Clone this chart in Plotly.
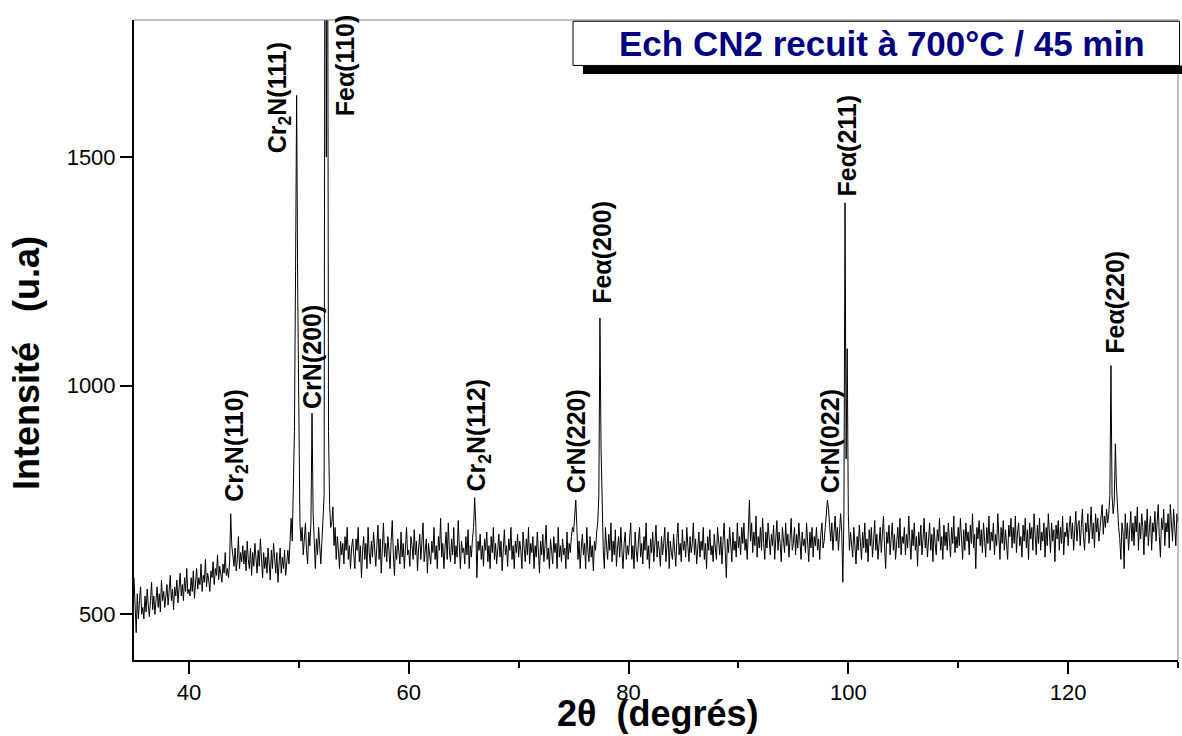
import plotly.graph_objects as go

# ---------------- data ----------------
two_theta_start = 35.0
two_theta_step = 0.1

intensity_35_40 = [
    580, 520, 460, 545, 490, 530, 560, 500, 515, 490,
    540, 505, 555, 520, 495, 530, 570, 510, 540, 500,
    525, 560, 515, 545, 505, 575, 530, 550, 515, 540,
    565, 520, 545, 585, 530, 555, 510, 560, 540, 575,
    525, 560, 590, 540, 565, 530, 580, 550, 600, 545]
intensity_40_45 = [
    555, 540, 580, 550, 595, 535, 570, 600, 555, 580,
    565, 610, 550, 585, 570, 620, 560, 590, 575, 550,
    595, 580, 615, 565, 600, 585, 630, 575, 605, 590,
    570, 610, 590, 635, 585, 600, 580, 615, 720, 650,
    630, 605, 645, 595, 620, 670, 600, 635, 615, 650]
intensity_45_50 = [
    610, 640, 595, 660, 620, 600, 645, 585, 635, 605,
    655, 615, 590, 640, 605, 665, 610, 580, 635, 600,
    625, 590, 645, 610, 575, 640, 600, 655, 615, 590,
    635, 570, 610, 645, 590, 625, 600, 640, 585, 620,
    640, 610, 655, 710, 660, 760, 900, 1250, 1635, 1200]
intensity_50_55 = [
    850, 700, 660, 690, 630, 670, 700, 640, 610, 680,
    650, 700, 940, 720, 640, 600, 665, 630, 690, 640,
    610, 660, 700, 760, 2600, 1500, 2400, 900, 740, 690,
    700, 735, 650, 690, 620, 670, 640, 600, 660, 630,
    655, 610, 670, 640, 690, 620, 650, 600, 645, 665]
intensity_55_60 = [
    630, 600, 665, 640, 690, 615, 650, 580, 640, 670,
    620, 655, 600, 690, 635, 610, 660, 625, 680, 640,
    605, 650, 695, 620, 665, 590, 640, 700, 625, 655,
    615, 670, 640, 600, 660, 705, 630, 585, 650, 620,
    665, 640, 610, 680, 625, 655, 600, 645, 690, 630]
intensity_60_65 = [
    640, 605, 670, 650, 620, 685, 630, 660, 595, 645,
    675, 620, 650, 700, 615, 640, 665, 590, 655, 630,
    610, 660, 635, 690, 620, 650, 600, 670, 640, 710,
    625, 655, 600, 645, 680, 620, 700, 640, 615, 665,
    630, 690, 610, 650, 625, 705, 640, 600, 660, 635]
intensity_65_70 = [
    645, 610, 670, 630, 685, 600, 650, 625, 665, 690,
    755, 700, 580, 660, 640, 675, 620, 650, 605, 665,
    640, 680, 615, 650, 600, 670, 635, 690, 620, 655,
    610, 645, 675, 625, 660, 595, 640, 685, 630, 650,
    605, 665, 640, 690, 620, 650, 600, 660, 635, 675]
intensity_70_75 = [
    625, 660, 640, 600, 680, 645, 615, 665, 630, 690,
    610, 655, 635, 670, 600, 650, 625, 680, 645, 590,
    660, 630, 675, 615, 650, 695, 620, 645, 600, 665,
    640, 610, 670, 635, 655, 600, 690, 625, 650, 615,
    665, 630, 645, 600, 680, 620, 655, 635, 670, 690]
intensity_75_80 = [
    680, 720, 750, 690, 620, 660, 600, 645, 675, 630,
    655, 600, 690, 640, 615, 670, 625, 650, 595, 660,
    640, 680, 700, 760, 1148, 862, 720, 640, 600, 690,
    650, 620, 675, 640, 700, 615, 660, 630, 685, 605,
    645, 670, 625, 690, 640, 600, 655, 680, 620, 650]
intensity_80_85 = [
    630, 665, 700, 620, 650, 600, 680, 640, 615, 660,
    690, 625, 655, 610, 670, 640, 700, 620, 650, 600,
    665, 635, 680, 615, 650, 695, 625, 660, 640, 605,
    670, 630, 655, 690, 615, 645, 680, 600, 660, 635,
    620, 675, 645, 605, 665, 700, 630, 655, 615, 685]
intensity_85_90 = [
    640, 660, 625, 690, 650, 615, 670, 635, 655, 700,
    630, 665, 610, 645, 680, 625, 660, 640, 690, 620,
    655, 600, 670, 640, 685, 630, 650, 615, 675, 645,
    620, 690, 655, 630, 670, 610, 660, 700, 640, 580,
    665, 635, 690, 650, 615, 680, 640, 660, 625, 700]
intensity_90_95 = [
    645, 670, 630, 690, 655, 700, 640, 665, 620, 680,
    750, 660, 700, 635, 680, 650, 715, 625, 670, 645,
    690, 640, 710, 655, 620, 680, 645, 700, 660, 630,
    675, 650, 695, 620, 665, 705, 640, 680, 655, 615,
    690, 660, 635, 700, 650, 675, 625, 665, 710, 640]
intensity_95_100 = [
    655, 690, 630, 675, 645, 700, 660, 620, 680, 650,
    665, 635, 700, 655, 615, 680, 645, 690, 625, 670,
    650, 690, 640, 665, 620, 675, 700, 645, 660, 690,
    720, 750, 730, 690, 660, 700, 640, 680, 715, 660,
    690, 640, 700, 720, 680, 570, 720, 1400, 840, 1081]
intensity_100_105 = [
    720, 640, 680, 655, 625, 690, 650, 610, 670, 640,
    695, 660, 620, 680, 645, 700, 635, 665, 615, 685,
    650, 690, 625, 660, 705, 640, 675, 620, 655, 690,
    635, 670, 715, 645, 600, 680, 655, 695, 630, 665,
    700, 640, 675, 620, 660, 690, 645, 710, 630, 670]
intensity_105_110 = [
    655, 690, 630, 675, 645, 715, 660, 620, 685, 650,
    700, 640, 670, 605, 680, 650, 695, 630, 665, 710,
    645, 680, 625, 660, 700, 640, 675, 615, 690, 655,
    630, 685, 660, 710, 640, 670, 620, 695, 650, 680,
    640, 700, 665, 625, 690, 655, 715, 635, 670, 645]
intensity_110_115 = [
    690, 650, 710, 665, 620, 685, 640, 700, 660, 680,
    630, 695, 655, 720, 645, 675, 600, 690, 665, 705,
    650, 685, 635, 700, 670, 625, 690, 655, 715, 640,
    680, 660, 700, 630, 675, 650, 720, 665, 620, 690,
    655, 705, 640, 685, 660, 620, 695, 670, 710, 645]
intensity_115_120 = [
    690, 655, 715, 635, 680, 700, 650, 670, 625, 695,
    660, 710, 645, 685, 620, 700, 665, 690, 640, 720,
    675, 630, 695, 655, 710, 640, 680, 660, 700, 625,
    690, 650, 720, 670, 635, 700, 660, 685, 615, 695,
    665, 705, 640, 690, 655, 715, 630, 680, 670, 700]
intensity_120_125 = [
    650, 690, 715, 665, 700, 640, 685, 725, 660, 695,
    705, 650, 690, 730, 670, 640, 700, 680, 720, 655,
    690, 735, 665, 700, 645, 720, 680, 710, 660, 690,
    700, 740, 675, 715, 690, 730, 700, 720, 760, 1044,
    760, 720, 745, 873, 780, 720, 690, 665, 620, 700]
intensity_125_130 = [
    680, 600, 720, 665, 700, 640, 690, 725, 660, 700,
    650, 715, 680, 735, 640, 700, 665, 720, 690, 630,
    705, 670, 730, 650, 690, 715, 640, 700, 680, 725,
    660, 700, 740, 670, 625, 710, 685, 730, 650, 700,
    680, 720, 645, 740, 690, 660, 730, 700, 650, 720,
    700]

intensity = (intensity_35_40 + intensity_40_45 + intensity_45_50 + intensity_50_55
             + intensity_55_60 + intensity_60_65 + intensity_65_70 + intensity_70_75
             + intensity_75_80 + intensity_80_85 + intensity_85_90 + intensity_90_95
             + intensity_95_100 + intensity_100_105 + intensity_105_110
             + intensity_110_115 + intensity_115_120 + intensity_120_125
             + intensity_125_130)
two_theta = [round(two_theta_start + i * two_theta_step, 2) for i in range(len(intensity))]

peak_labels = ["Cr<sub>2</sub>N(110)", "Cr<sub>2</sub>N(111)", "CrN(200)", "Feα(110)",
               "Cr<sub>2</sub>N(112)", "CrN(220)", "Feα(200)", "CrN(022)",
               "Feα(211)", "Feα(220)"]

x_tick_values = [40, 60, 80, 100, 120]
x_minor_tick_values = [50, 70, 90, 110, 130]
y_tick_values = [500, 1000, 1500]

chart_title = "Ech CN2 recuit à 700°C / 45 min"
x_title = "2θ  (degrés)"
y_title = "Intensité   (u.a)"

# ---------------- layout / style ----------------
label_positions = [(44.2, 869), (48.2, 1629), (51.2, 1063), (54.2, 1701),
                   (66.3, 893), (75.3, 878), (77.6, 1291), (98.4, 878),
                   (99.9, 1526), (124.2, 1182)]

FONT = "Liberation Sans, Arial, sans-serif"

fig = go.Figure()
fig.add_trace(go.Scatter(x=two_theta, y=intensity, mode="lines",
                         line=dict(color="black", width=1), showlegend=False,
                         hoverinfo="skip"))

annotations = []
for text, (lx, ly) in zip(peak_labels, label_positions):
    annotations.append(dict(x=lx, y=ly, xref="x", yref="y", text="<b>%s</b>" % text,
                            showarrow=False, textangle=-90, xanchor="center",
                            yanchor="middle",
                            font=dict(family=FONT, size=25, color="black")))

# axis titles
annotations.append(dict(x=0.502, y=-0.083, xref="paper", yref="paper",
                        text="<b>%s</b>" % x_title, showarrow=False,
                        xanchor="center", yanchor="middle",
                        font=dict(family=FONT, size=36, color="black")))
annotations.append(dict(x=-0.1034, y=0.464, xref="paper", yref="paper",
                        text="<b>%s</b>" % y_title, showarrow=False, textangle=-90,
                        xanchor="center", yanchor="middle",
                        font=dict(family=FONT, size=36, color="black")))
# title text
annotations.append(dict(x=0.7165, y=0.963, xref="paper", yref="paper",
                        text="<b>%s</b>" % chart_title, showarrow=False,
                        xanchor="center", yanchor="middle",
                        font=dict(family=FONT, size=35, color="#000080")))

shapes = [
    # top / right thin gray frame
    dict(type="line", xref="paper", yref="paper", x0=0, x1=1, y0=1, y1=1,
         line=dict(color="#808080", width=1)),
    dict(type="line", xref="paper", yref="paper", x0=1, x1=1, y0=0, y1=1,
         line=dict(color="#808080", width=1)),
    # title box shadow
    dict(type="rect", xref="paper", yref="paper", x0=0.430, x1=1.02, y0=0.9156, y1=0.929,
         fillcolor="black", line=dict(width=0)),
    # title box
    dict(type="rect", xref="paper", yref="paper", x0=0.4205, x1=1.0015, y0=0.929, y1=0.998,
         fillcolor="white", line=dict(color="black", width=1)),
]

fig.update_layout(
    width=1182, height=736,
    margin=dict(l=134, r=4, t=20, b=76),
    paper_bgcolor="white", plot_bgcolor="white",
    font=dict(family=FONT, size=22, color="black"),
    annotations=annotations,
    shapes=shapes,
    xaxis=dict(range=[35, 130], tickvals=x_tick_values, ticks="outside", ticklen=12,
               tickwidth=2, tickcolor="black", showline=True, linecolor="black",
               linewidth=2, showgrid=False, zeroline=False,
               tickfont=dict(family=FONT, size=22, color="black"),
               minor=dict(tickvals=x_minor_tick_values, ticks="outside", ticklen=6,
                          tickwidth=2, tickcolor="black", showgrid=False)),
    yaxis=dict(range=[400, 1800], tickvals=y_tick_values, ticks="outside", ticklen=12,
               tickwidth=2, tickcolor="black", showline=True, linecolor="black",
               linewidth=2, showgrid=False, zeroline=False,
               tickfont=dict(family=FONT, size=22, color="black")),
)

fig.write_html("out.html")
